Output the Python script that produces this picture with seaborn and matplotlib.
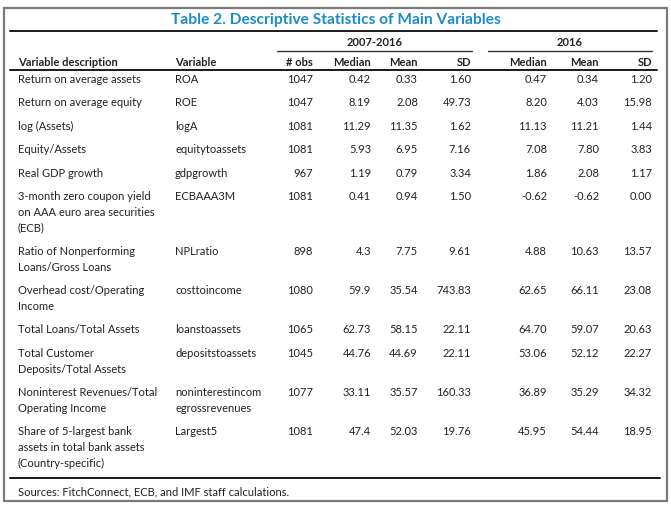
import matplotlib.pyplot as plt
import seaborn as sns
from matplotlib.patches import Rectangle

sns.set_theme(style="white")
plt.rcParams['font.family'] = ['Lato', 'DejaVu Sans']

# table content
title = "Table 2. Descriptive Statistics of Main Variables"
period_labels = ["2007-2016", "2016"]
col_headers = ["# obs", "Median", "Mean", "SD", "Median", "Mean", "SD"]

descriptions = [
    ["Return on average assets"],
    ["Return on average equity"],
    ["log (Assets)"],
    ["Equity/Assets"],
    ["Real GDP growth"],
    ["3-month zero coupon yield", "on AAA euro area securities", "(ECB)"],
    ["Ratio of Nonperforming", "Loans/Gross Loans"],
    ["Overhead cost/Operating", "Income"],
    ["Total Loans/Total Assets"],
    ["Total Customer", "Deposits/Total Assets"],
    ["Noninterest Revenues/Total", "Operating Income"],
    ["Share of 5-largest bank", "assets in total bank assets", "(Country-specific)"],
]
variables = [
    ["ROA"], ["ROE"], ["logA"], ["equitytoassets"], ["gdpgrowth"], ["ECBAAA3M"],
    ["NPLratio"], ["costtoincome"], ["loanstoassets"], ["depositstoassets"],
    ["noninterestincom", "egrossrevenues"], ["Largest5"],
]
obs = ["1047", "1047", "1081", "1081", "967", "1081", "898", "1080", "1065", "1045", "1077", "1081"]
median_all = ["0.42", "8.19", "11.29", "5.93", "1.19", "0.41", "4.3", "59.9", "62.73", "44.76", "33.11", "47.4"]
mean_all = ["0.33", "2.08", "11.35", "6.95", "0.79", "0.94", "7.75", "35.54", "58.15", "44.69", "35.57", "52.03"]
sd_all = ["1.60", "49.73", "1.62", "7.16", "3.34", "1.50", "9.61", "743.83", "22.11", "22.11", "160.33", "19.76"]
median_2016 = ["0.47", "8.20", "11.13", "7.08", "1.86", "-0.62", "4.88", "62.65", "64.70", "53.06", "36.89", "45.95"]
mean_2016 = ["0.34", "4.03", "11.21", "7.80", "2.08", "-0.62", "10.63", "66.11", "59.07", "52.12", "35.29", "54.44"]
sd_2016 = ["1.20", "15.98", "1.44", "3.83", "1.17", "0.00", "13.57", "23.08", "20.63", "22.27", "34.32", "18.95"]
source = "Sources: FitchConnect, ECB, and IMF staff calculations."

numeric_cols = [obs, median_all, mean_all, sd_all, median_2016, mean_2016, sd_2016]

# layout (pixel coordinates)
W, H = 671, 508
col_right = [313, 371, 418, 471, 547, 599, 652]
x_desc, x_var = 18, 175
line_h = 15.8
row_pad = 7.6
text_col = "#222222"
fs = 8.0

fig = plt.figure(figsize=(W / 100, H / 100), dpi=100)
ax = fig.add_axes([0, 0, 1, 1])
ax.set_xlim(0, W)
ax.set_ylim(H, 0)
ax.axis("off")

# outer frame
ax.add_patch(Rectangle((3.5, 8), 663.5, 493, fill=False, edgecolor="#7a7a7a", lw=1.6))

ax.text(336, 20, title, ha="center", va="center", fontsize=11.2,
        fontweight="bold", color="#1e8bc9")
ax.plot([10, 657], [31, 31], color="#1a1a1a", lw=1.4)

# period headers
for label, (x0, x1) in zip(period_labels, [(277, 472), (488, 652)]):
    ax.text((x0 + x1) / 2, 42, label, ha="center", va="center",
            fontsize=fs, fontweight="bold", color=text_col)
    ax.plot([x0, x1], [51, 51], color="#333333", lw=1.0)

# column headers
ax.text(x_desc, 63, "Variable description", ha="left", va="center",
        fontsize=fs, fontweight="bold", color=text_col)
ax.text(x_var, 63, "Variable", ha="left", va="center",
        fontsize=fs, fontweight="bold", color=text_col)
for h, xr in zip(col_headers, col_right):
    ax.text(xr, 63, h, ha="right", va="center", fontsize=fs,
            fontweight="bold", color=text_col)
ax.plot([10, 657], [70, 70], color="#1a1a1a", lw=1.4)

# body rows
y = 79.5
for i, desc in enumerate(descriptions):
    for k, line in enumerate(desc):
        ax.text(x_desc, y + k * line_h, line, ha="left", va="center",
                fontsize=fs, color=text_col)
    for k, line in enumerate(variables[i]):
        ax.text(x_var, y + k * line_h, line, ha="left", va="center",
                fontsize=fs, color=text_col)
    for col, xr in zip(numeric_cols, col_right):
        ax.text(xr, y, col[i], ha="right", va="center", fontsize=fs,
                color=text_col)
    nlines = max(len(desc), len(variables[i]))
    y += nlines * line_h + row_pad

ax.plot([10, 660], [478, 478], color="#1a1a1a", lw=1.4)
ax.text(x_desc, 492, source, ha="left", va="center", fontsize=fs, color=text_col)

fig.savefig("out.png", dpi=100, facecolor="white")
